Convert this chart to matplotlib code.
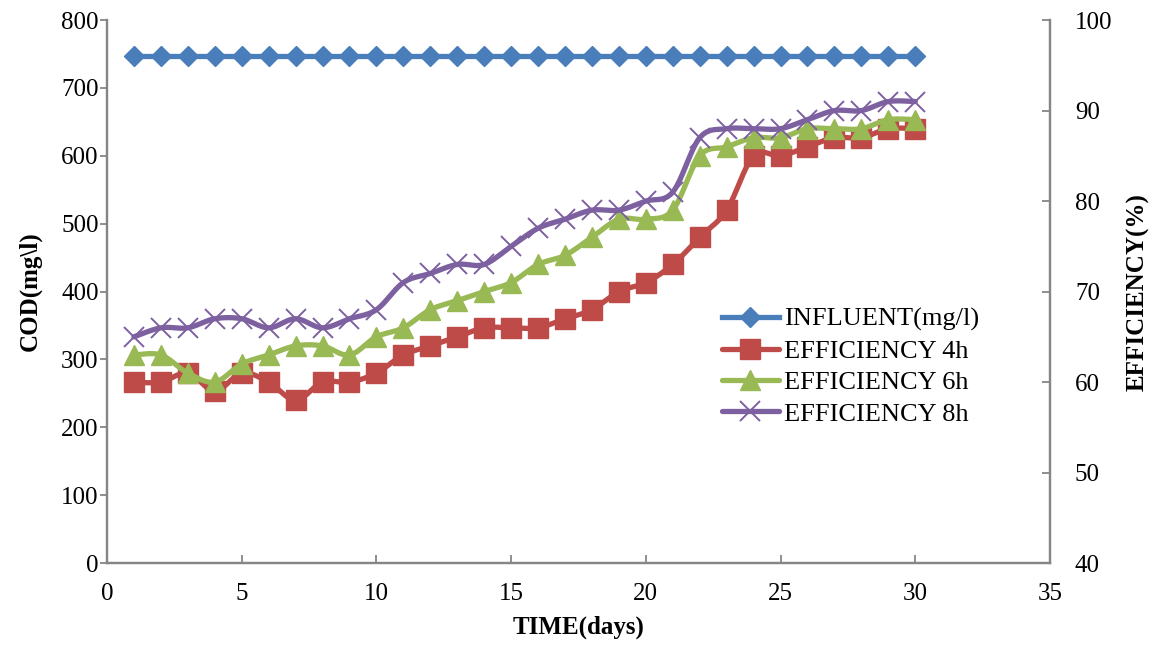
import numpy as np
import matplotlib.pyplot as plt

plt.rcParams['font.family'] = ['Liberation Serif', 'DejaVu Serif']

days = list(range(1, 31))
influent = [747] * 30
eff_4h = [60, 60, 61, 59, 61, 60, 58, 60, 60, 61, 63, 64, 65, 66, 66,
          66, 67, 68, 70, 71, 73, 76, 79, 85, 85, 86, 87, 87, 88, 88]
eff_6h = [63, 63, 61, 60, 62, 63, 64, 64, 63, 65, 66, 68, 69, 70, 71,
          73, 74, 76, 78, 78, 79, 85, 86, 87, 87, 88, 88, 88, 89, 89]
eff_8h = [65, 66, 66, 67, 67, 66, 67, 66, 67, 68, 71, 72, 73, 73, 75,
          77, 78, 79, 79, 80, 81, 87, 88, 88, 88, 89, 90, 90, 91, 91]
labels = ['INFLUENT(mg/l)', 'EFFICIENCY 4h', 'EFFICIENCY 6h', 'EFFICIENCY 8h']


def smooth(x, y, n=20):
    # Catmull-Rom style curve through the points, like a spreadsheet "smoothed line"
    x = np.asarray(x, float)
    y = np.asarray(y, float)
    px = np.concatenate([[x[0]], x, [x[-1]]])
    py = np.concatenate([[y[0]], y, [y[-1]]])
    xs, ys = [], []
    t = np.linspace(0, 1, n, endpoint=False)
    for i in range(1, len(px) - 2):
        p0, p1, p2, p3 = (np.array([px[j], py[j]]) for j in range(i - 1, i + 3))
        c1 = p1 + (p2 - p0) / 6
        c2 = p2 - (p3 - p1) / 6
        b = ((1 - t) ** 3)[:, None] * p1 + (3 * (1 - t) ** 2 * t)[:, None] * c1 \
            + (3 * (1 - t) * t ** 2)[:, None] * c2 + (t ** 3)[:, None] * p2
        xs.extend(b[:, 0])
        ys.extend(b[:, 1])
    xs.append(x[-1])
    ys.append(y[-1])
    return xs, ys


fig, ax = plt.subplots(figsize=(11.58, 6.48), dpi=100)
fig.subplots_adjust(left=0.0924, right=0.9067, top=0.969, bottom=0.131)
ax2 = ax.twinx()

blue = '#4a7ebb'
red = '#be4b48'
green = '#98b954'
purple = '#7d60a0'
lw = 3.8

h_inf, = ax.plot(days, influent, color=blue, lw=lw, marker='D', ms=10)

series = [(eff_4h, red, 's', 14),
          (eff_6h, green, '^', 15),
          (eff_8h, purple, 'x', 14)]
handles = [h_inf]
for vals, c, m, ms in series:
    sx, sy = smooth(days, vals)
    ax2.plot(sx, sy, color=c, lw=lw, solid_capstyle='round')
    mew = 1.4 if m == 'x' else 1
    ax2.plot(days, vals, ls='none', marker=m, ms=ms, color=c, mew=mew)
    handles.append(plt.Line2D([], [], color=c, lw=lw, marker=m, ms=ms, mew=mew,
                              solid_capstyle='round'))

ax.set_xlim(0, 35)
ax.set_ylim(0, 800)
ax.set_yticks(range(0, 801, 100))
ax.set_xticks(range(0, 36, 5))
ax2.set_ylim(40, 100)
ax2.set_yticks(range(40, 101, 10))

ax.set_xlabel('TIME(days)', fontsize=18, fontweight='bold', labelpad=8)
ax.set_ylabel('COD(mg\\l)', fontsize=18, fontweight='bold', labelpad=14)
ax2.set_ylabel('EFFICIENCY(%)', fontsize=18, fontweight='bold', labelpad=10)

grey = '#868686'
ax.tick_params(axis='y', labelsize=18, direction='out', length=5, width=1.3,
               color=grey, pad=1)
ax.tick_params(axis='x', labelsize=18, direction='in', length=6, width=1.3,
               color=grey, pad=14)
ax2.tick_params(axis='y', labelsize=18, direction='in', length=6, width=1.3,
                color=grey, pad=18)
for a in (ax, ax2):
    for s in a.spines.values():
        s.set_color(grey)
        s.set_linewidth(1.6)
    a.spines['top'].set_visible(False)

ax.legend(handles, labels, loc='center left', bbox_to_anchor=(0.652, 0.362),
          frameon=False, fontsize=19, handlelength=2.15, labelspacing=0.3,
          handletextpad=0.2, borderpad=0, borderaxespad=0)

fig.savefig('out.png', dpi=100)
